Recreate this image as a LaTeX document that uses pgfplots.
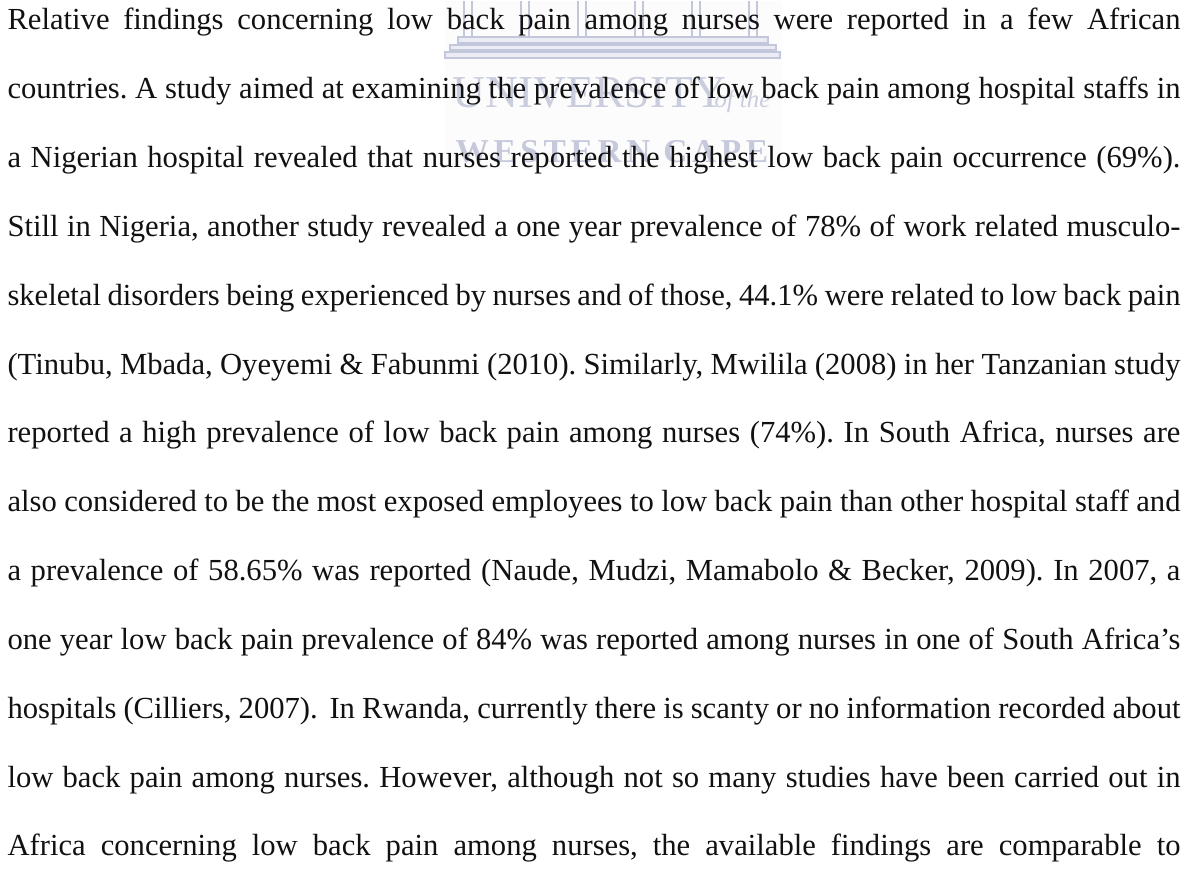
\documentclass[border=0pt]{standalone}
\usepackage{pgfplots}
\pgfplotsset{compat=1.18}
\usepackage{fontspec}
\setmainfont{Liberation Serif}
\newfontfamily\wfont[LetterSpace=14]{Liberation Serif}
\definecolor{wmline}{HTML}{C3C7DC}
\definecolor{wmfill}{HTML}{ECEDF4}
\definecolor{wmbg}{HTML}{FCFCFD}
\definecolor{wmtext}{HTML}{CACDDD}
\definecolor{wmtextb}{HTML}{C6C9DC}
\definecolor{ink}{HTML}{111111}
\newlength{\tw}\setlength{\tw}{450pt}
\newcommand{\tl}[1]{\makebox[\tw][s]{#1}}
\frenchspacing
\begin{document}
\begin{tikzpicture}
\begin{axis}[
  width=455pt, height=333.4pt, scale only axis,
  xmin=0, xmax=1186, ymin=0, ymax=869, y dir=reverse,
  hide axis, clip=false,
]
\addplot[draw=none, forget plot] coordinates {(0,0) (1186,869)};
% faint watermark background
\addplot[draw=none, fill=wmbg, forget plot] coordinates {(445,0) (782,0) (782,168) (445,168)} -- cycle;
% watermark columns (double lines)
\foreach \c in {468,525,582,639,696,753}{
  \edef\tmp{\noexpand\addplot[draw=wmline, line width=0.6pt] coordinates {(\c-4,0) (\c-4,36)};
            \noexpand\addplot[draw=wmline, line width=0.6pt] coordinates {(\c+4,0) (\c+4,36)};}
  \tmp
}
\addplot[draw=wmline, fill=wmfill, line width=0.6pt] coordinates {(458,36) (768,36) (768,42) (458,42)} -- cycle;
\addplot[draw=wmline, fill=wmfill, line width=0.6pt] coordinates {(450,44) (776,44) (776,49) (450,49)} -- cycle;
\addplot[draw=wmline, fill=wmfill, line width=0.6pt] coordinates {(445,51) (780,51) (780,57) (445,57)} -- cycle;
\node[anchor=base west, inner sep=0, text=wmtext] at (axis cs:452,107) {\fontsize{17.5}{19}\selectfont UNIVERSITY};
\node[anchor=base west, inner sep=0, text=wmtext] at (axis cs:714,107) {\fontsize{9.5}{10}\selectfont\itshape of the};
\node[anchor=base west, inner sep=0, text=wmtextb] at (axis cs:455,162) {\wfont\bfseries\fontsize{12.8}{14}\selectfont WESTERN CAPE};
% text lines
\begin{scope}[every node/.style={anchor=base west, inner sep=0, text=ink, font=\fontsize{11.75}{14}\selectfont}]
\node at (axis cs:7,29)    {\tl{Relative findings concerning low back pain among nurses were reported in a few African}};
\node at (axis cs:7,97.8)  {\tl{countries. A study aimed at examining the prevalence of low back pain among hospital staffs in}};
\node at (axis cs:7,166.7) {\tl{a Nigerian hospital revealed that nurses reported the highest low back pain occurrence (69\%).}};
\node at (axis cs:7,235.5) {\tl{Still in Nigeria, another study revealed a one year prevalence of 78\% of work related musculo-}};
\node at (axis cs:7,304.3) {\tl{skeletal disorders being experienced by nurses and of those, 44.1\% were related to low back pain}};
\node at (axis cs:7,373.2) {\tl{(Tinubu, Mbada, Oyeyemi \& Fabunmi (2010). Similarly, Mwilila (2008) in her Tanzanian study}};
\node at (axis cs:7,442)   {\tl{reported a high prevalence of low back pain among nurses (74\%). In South Africa, nurses are}};
\node at (axis cs:7,510.8) {\tl{also considered to be the most exposed employees to low back pain than other hospital staff and}};
\node at (axis cs:7,579.7) {\tl{a prevalence of 58.65\% was reported (Naude, Mudzi, Mamabolo \& Becker, 2009). In 2007, a}};
\node at (axis cs:7,648.5) {\tl{one year low back pain prevalence of 84\% was reported among nurses in one of South Africa’s}};
\node at (axis cs:7,717.3) {\tl{hospitals (Cilliers, 2007).\hspace{0.15em} In Rwanda, currently there is scanty or no information recorded about}};
\node at (axis cs:7,786.2) {\tl{low back pain among nurses. However, although not so many studies have been carried out in}};
\node at (axis cs:7,855)   {\tl{Africa concerning low back pain among nurses, the available findings are comparable to}};
\end{scope}
\end{axis}
\end{tikzpicture}
\end{document}
